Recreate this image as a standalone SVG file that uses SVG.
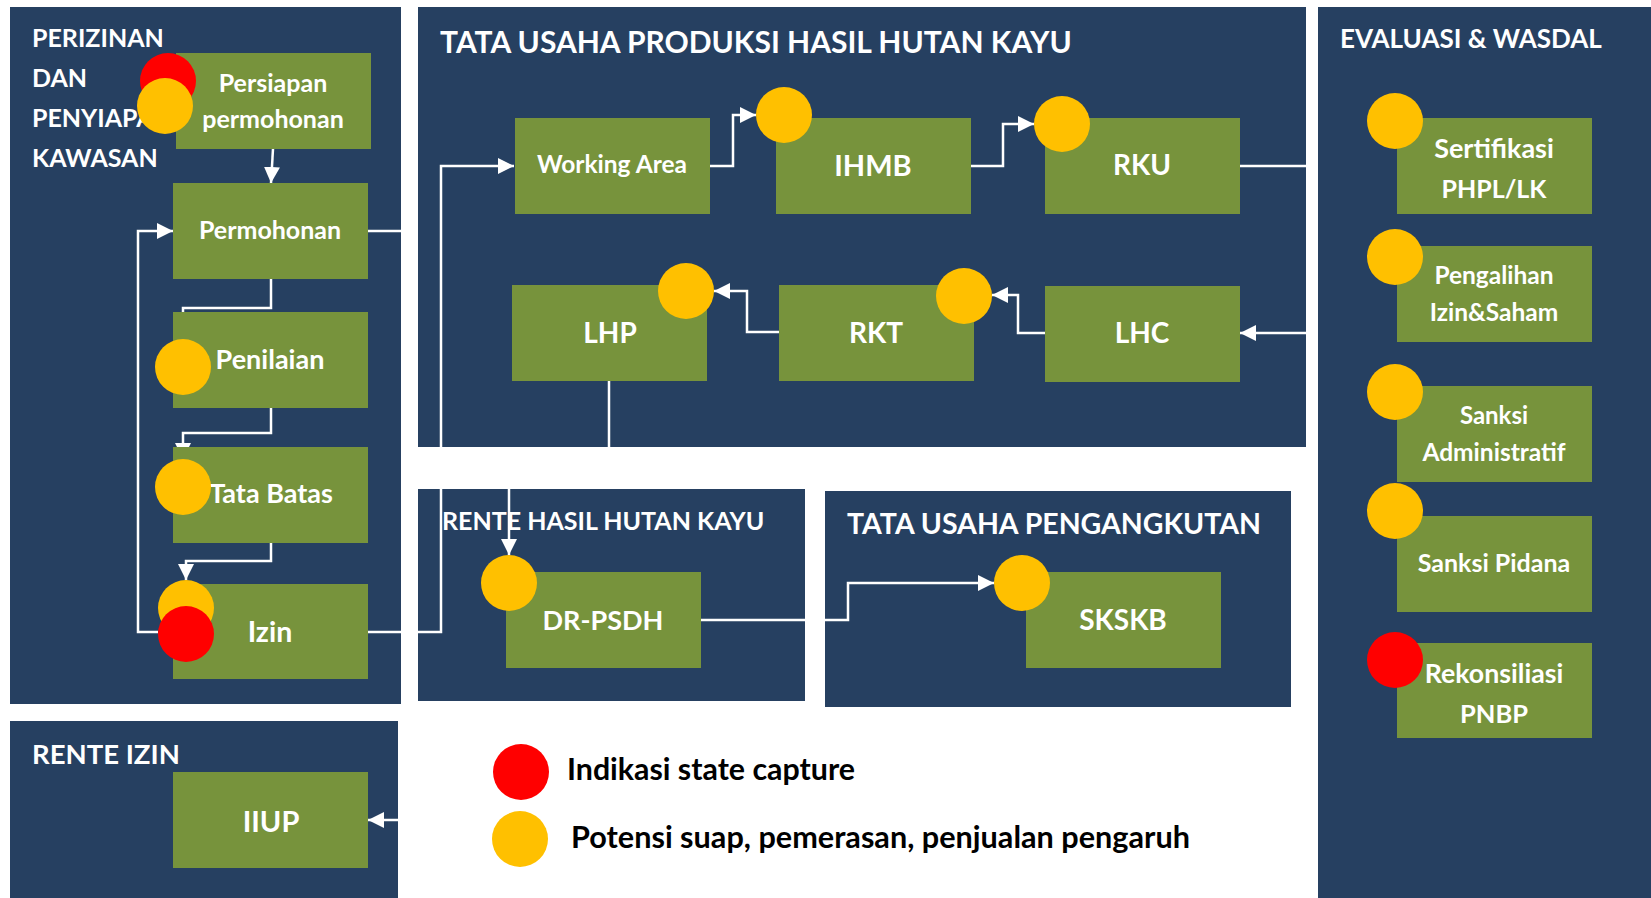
<svg xmlns="http://www.w3.org/2000/svg" width="1651" height="898" viewBox="0 0 1651 898">
  <defs>
    <marker id="arrow" viewBox="0 0 16 16" refX="16" refY="8" markerWidth="16" markerHeight="16" markerUnits="userSpaceOnUse" orient="auto">
      <path d="M0,0 L16,8 L0,16 Z" fill="#ffffff"/>
    </marker>
    <style>
      .panel { fill: #264061; }
      .box { fill: #77933c; }
      .warn { fill: #ffc000; }
      .alert { fill: #ff0000; }
      .title { font-family: Lato, "Liberation Sans", sans-serif; font-weight: 700; fill: #ffffff; }
      .label { font-family: Lato, "Liberation Sans", sans-serif; font-weight: 700; fill: #ffffff; text-anchor: middle; }
      .wire { fill: none; stroke: #ffffff; stroke-width: 2.5; }
      .arrow { marker-end: url(#arrow); }
      .legend { font-family: Lato, "Liberation Sans", sans-serif; font-weight: 700; fill: #000000; font-size: 30px; }
    </style>
  </defs>

  <rect x="0" y="0" width="1651" height="898" fill="#ffffff"/>

  <!-- Section panels -->
  <g id="panel-perizinan">
    <rect class="panel" x="10" y="7" width="391" height="697"/>
    <text class="title" font-size="25" x="32" y="47">PERIZINAN</text>
    <text class="title" font-size="25" x="32" y="87">DAN</text>
    <text class="title" font-size="25" x="32" y="127">PENYIAPAN</text>
    <text class="title" font-size="25" x="32" y="167">KAWASAN</text>
  </g>
  <g id="panel-produksi">
    <rect class="panel" x="418" y="7" width="888" height="440"/>
    <text class="title" font-size="30" x="440" y="53">TATA USAHA PRODUKSI HASIL HUTAN KAYU</text>
  </g>
  <g id="panel-evaluasi">
    <rect class="panel" x="1318" y="7" width="333" height="891"/>
    <text class="title" font-size="26" x="1340" y="48">EVALUASI &amp; WASDAL</text>
  </g>
  <g id="panel-rente-hasil">
    <rect class="panel" x="418" y="489" width="387" height="212"/>
    <text class="title" font-size="25" x="442" y="530">RENTE HASIL HUTAN KAYU</text>
  </g>
  <g id="panel-pengangkutan">
    <rect class="panel" x="825" y="491" width="466" height="216"/>
    <text class="title" font-size="28.5" x="847" y="534">TATA USAHA PENGANGKUTAN</text>
  </g>
  <g id="panel-rente-izin">
    <rect class="panel" x="10" y="721" width="388" height="177"/>
    <text class="title" font-size="27.5" x="32" y="764">RENTE IZIN</text>
  </g>

  <!-- Connectors -->
  <g id="connectors">
    <path class="wire arrow" d="M273,149 L271,183"/>
    <path class="wire arrow" d="M271,279 V308 H183 V339"/>
    <path class="wire arrow" d="M271,408 V433 H183 V459"/>
    <path class="wire arrow" d="M271,543 V561 H186 V580"/>
    <path class="wire arrow" d="M158,632 H138 V231 H173"/>
    <path class="wire arrow" d="M368,231 H410 V820 H368"/>
    <path class="wire arrow" d="M368,632 H441 V166 H514"/>
    <path class="wire arrow" d="M710,166 H733 V115 H756"/>
    <path class="wire arrow" d="M971,166 H1003 V124 H1034"/>
    <path class="wire arrow" d="M1240,166 H1312 V333 H1240"/>
    <path class="wire arrow" d="M1045,333 H1018 V295 H992"/>
    <path class="wire arrow" d="M779,332 H747 V291 H714"/>
    <path class="wire arrow" d="M609,381 V468 H509 V555"/>
    <path class="wire arrow" d="M701,620 H848 V583 H994"/>
  </g>

  <!-- Perizinan dan penyiapan kawasan -->
  <g id="node-persiapan">
    <rect class="box" x="176" y="53" width="195" height="96"/>
    <text class="label" font-size="25" x="273" y="92">Persiapan</text>
    <text class="label" font-size="25" x="273" y="128">permohonan</text>
    <circle class="alert" cx="168" cy="81" r="28"/>
    <circle class="warn" cx="165" cy="106" r="28"/>
  </g>
  <g id="node-permohonan">
    <rect class="box" x="173" y="183" width="195" height="96"/>
    <text class="label" font-size="25" x="270" y="239">Permohonan</text>
  </g>
  <g id="node-penilaian">
    <rect class="box" x="173" y="312" width="195" height="96"/>
    <text class="label" font-size="27" x="270" y="369">Penilaian</text>
    <circle class="warn" cx="183" cy="367" r="28"/>
  </g>
  <g id="node-tata-batas">
    <rect class="box" x="173" y="447" width="195" height="96"/>
    <text class="label" font-size="27" x="271" y="503">Tata Batas</text>
    <circle class="warn" cx="183" cy="487" r="28"/>
  </g>
  <g id="node-izin">
    <rect class="box" x="173" y="584" width="195" height="95"/>
    <text class="label" font-size="28.5" x="270" y="642">Izin</text>
    <circle class="warn" cx="186" cy="608" r="28"/>
    <circle class="alert" cx="186" cy="634" r="28"/>
  </g>

  <!-- Rente izin -->
  <g id="node-iiup">
    <rect class="box" x="173" y="772" width="195" height="96"/>
    <text class="label" font-size="29" x="271" y="832">IIUP</text>
  </g>

  <!-- Tata usaha produksi -->
  <g id="node-working-area">
    <rect class="box" x="515" y="118" width="195" height="96"/>
    <text class="label" font-size="24.5" x="612" y="173">Working Area</text>
  </g>
  <g id="node-ihmb">
    <rect class="box" x="776" y="118" width="195" height="96"/>
    <text class="label" font-size="29" x="873" y="176">IHMB</text>
    <circle class="warn" cx="784" cy="115" r="28"/>
  </g>
  <g id="node-rku">
    <rect class="box" x="1045" y="118" width="195" height="96"/>
    <text class="label" font-size="28" x="1142" y="175">RKU</text>
    <circle class="warn" cx="1062" cy="124" r="28"/>
  </g>
  <g id="node-lhc">
    <rect class="box" x="1045" y="286" width="195" height="96"/>
    <text class="label" font-size="28" x="1142" y="343">LHC</text>
  </g>
  <g id="node-rkt">
    <rect class="box" x="779" y="285" width="195" height="96"/>
    <text class="label" font-size="28" x="876" y="343">RKT</text>
    <circle class="warn" cx="964" cy="296" r="28"/>
  </g>
  <g id="node-lhp">
    <rect class="box" x="512" y="285" width="195" height="96"/>
    <text class="label" font-size="28" x="610" y="343">LHP</text>
    <circle class="warn" cx="686" cy="291" r="28"/>
  </g>

  <!-- Rente hasil hutan kayu -->
  <g id="node-dr-psdh">
    <rect class="box" x="506" y="572" width="195" height="96"/>
    <text class="label" font-size="27" x="603" y="630">DR-PSDH</text>
    <circle class="warn" cx="509" cy="583" r="28"/>
  </g>

  <!-- Tata usaha pengangkutan -->
  <g id="node-skskb">
    <rect class="box" x="1026" y="572" width="195" height="96"/>
    <text class="label" font-size="28" x="1123" y="630">SKSKB</text>
    <circle class="warn" cx="1022" cy="583" r="28"/>
  </g>

  <!-- Evaluasi & wasdal -->
  <g id="node-sertifikasi">
    <rect class="box" x="1397" y="118" width="195" height="96"/>
    <text class="label" font-size="27" x="1494" y="158">Sertifikasi</text>
    <text class="label" font-size="25" x="1494" y="198">PHPL/LK</text>
    <circle class="warn" cx="1395" cy="121" r="28"/>
  </g>
  <g id="node-pengalihan">
    <rect class="box" x="1397" y="246" width="195" height="96"/>
    <text class="label" font-size="24.5" x="1494" y="284">Pengalihan</text>
    <text class="label" font-size="24.5" x="1494" y="321">Izin&amp;Saham</text>
    <circle class="warn" cx="1395" cy="257" r="28"/>
  </g>
  <g id="node-sanksi-administratif">
    <rect class="box" x="1397" y="386" width="195" height="96"/>
    <text class="label" font-size="24" x="1494" y="424">Sanksi</text>
    <text class="label" font-size="24.5" x="1494" y="461">Administratif</text>
    <circle class="warn" cx="1395" cy="392" r="28"/>
  </g>
  <g id="node-sanksi-pidana">
    <rect class="box" x="1397" y="516" width="195" height="96"/>
    <text class="label" font-size="25" x="1494" y="572">Sanksi Pidana</text>
    <circle class="warn" cx="1395" cy="511" r="28"/>
  </g>
  <g id="node-rekonsiliasi">
    <rect class="box" x="1397" y="643" width="195" height="95"/>
    <text class="label" font-size="26.7" x="1494" y="683">Rekonsiliasi</text>
    <text class="label" font-size="25.5" x="1494" y="723">PNBP</text>
    <circle class="alert" cx="1395" cy="660" r="28"/>
  </g>

  <!-- Legend -->
  <g id="legend">
    <ellipse class="alert" cx="521" cy="772" rx="28" ry="28"/>
    <text class="legend" x="567" y="780" textLength="288" lengthAdjust="spacingAndGlyphs">Indikasi state capture</text>
    <ellipse class="warn" cx="520" cy="839" rx="28" ry="28"/>
    <text class="legend" x="571" y="848" textLength="619" lengthAdjust="spacingAndGlyphs">Potensi suap, pemerasan, penjualan pengaruh</text>
  </g>
</svg>
